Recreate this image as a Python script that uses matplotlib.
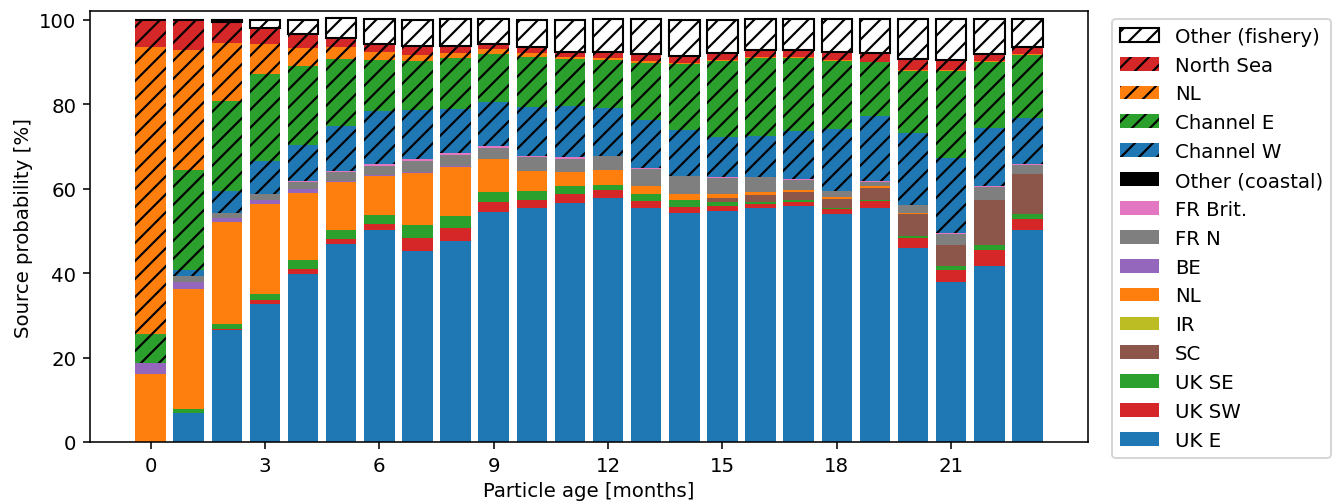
import numpy as np
import matplotlib
matplotlib.use('Agg')
import matplotlib.pyplot as plt

# particle age [months]
months = np.arange(24)

# coastal sources (solid), bottom -> top
uk_e      = [0.0, 6.9, 26.4, 32.7, 39.8, 46.9, 50.1, 45.3, 47.5, 54.4, 55.3, 56.5,
             57.8, 55.3, 54.3, 54.7, 55.4, 55.8, 53.9, 55.3, 46.0, 37.9, 41.6, 50.1]
uk_sw     = [0.0, 0.0, 0.4, 0.9, 1.2, 1.2, 1.6, 3.0, 3.2, 2.3, 2.1, 2.3,
             1.9, 1.7, 1.4, 1.2, 0.9, 0.9, 1.3, 1.7, 2.2, 2.7, 3.8, 2.8]
uk_se     = [0.0, 1.0, 1.2, 1.4, 2.1, 2.2, 2.1, 3.1, 2.8, 2.4, 2.1, 1.7,
             1.2, 1.8, 1.6, 0.9, 0.5, 0.6, 0.2, 0.4, 0.6, 1.1, 1.3, 1.1]
sc        = [0.0, 0.0, 0.0, 0.0, 0.0, 0.0, 0.0, 0.0, 0.0, 0.0, 0.0, 0.0,
             0.0, 0.0, 0.0, 0.9, 1.6, 1.8, 2.1, 2.8, 5.2, 5.0, 10.5, 9.4]
ir        = [0.0]*24
nl        = [16.2, 28.4, 24.1, 21.3, 15.9, 11.3, 9.2, 12.3, 11.7, 8.0, 4.7, 3.3,
             3.4, 1.9, 1.3, 0.9, 0.7, 0.5, 0.5, 0.3, 0.1, 0.0, 0.0, 0.0]
be        = [2.5, 1.5, 1.0, 1.0, 1.0, 0.2, 0.1, 0.1, 0.1, 0.0, 0.0, 0.0,
             0.0, 0.0, 0.0, 0.0, 0.0, 0.0, 0.0, 0.0, 0.0, 0.0, 0.0, 0.0]
fr_n      = [0.0, 1.6, 1.2, 1.5, 1.5, 2.0, 2.3, 2.8, 2.6, 2.6, 3.2, 3.3,
             3.3, 4.0, 4.3, 4.0, 3.6, 2.4, 1.3, 1.1, 1.9, 2.6, 3.1, 2.2]
fr_brit   = [0.0, 0.0, 0.0, 0.0, 0.2, 0.3, 0.3, 0.4, 0.5, 0.3, 0.3, 0.4,
             0.1, 0.2, 0.1, 0.1, 0.1, 0.2, 0.1, 0.1, 0.1, 0.1, 0.2, 0.2]
other_c   = [0.0]*24

# fishery sources (hatched)
ch_w      = [0.0, 1.2, 5.0, 7.8, 8.7, 10.6, 12.6, 11.5, 10.4, 10.6, 11.7, 12.1,
             11.3, 11.4, 10.8, 9.5, 9.7, 11.4, 14.8, 15.5, 17.0, 17.9, 13.8, 11.0]
ch_e      = [6.9, 23.7, 21.5, 20.4, 18.6, 16.0, 12.2, 11.8, 12.0, 11.3, 11.8, 11.0,
             11.5, 13.4, 15.6, 18.1, 18.5, 17.4, 16.0, 12.7, 14.8, 20.5, 15.7, 14.7]
nl_f      = [68.0, 28.6, 13.6, 7.1, 4.3, 2.8, 1.8, 1.3, 1.4, 1.1, 0.9, 0.5,
             0.3, 0.4, 0.2, 0.2, 0.2, 0.2, 0.2, 0.1, 0.2, 0.2, 0.2, 0.3]
north_sea = [6.4, 7.1, 5.1, 3.9, 3.2, 2.2, 2.0, 2.2, 1.5, 1.2, 1.3, 1.3,
             1.6, 1.7, 1.7, 1.7, 1.6, 1.5, 2.0, 2.2, 2.5, 2.4, 1.7, 1.6]
other_f   = [0.0, 0.0, 0.5, 1.8, 3.4, 4.6, 5.8, 6.2, 6.4, 5.9, 6.5, 7.5,
             7.7, 8.3, 8.7, 7.7, 7.3, 7.5, 7.7, 7.9, 9.5, 9.7, 8.3, 6.8]

# layer: data, label, color, hatch, edge linewidth
layers = [
    (uk_e,      'UK E',            'C0', None, 0),
    (uk_sw,     'UK SW',           'C3', None, 0),
    (uk_se,     'UK SE',           'C2', None, 0),
    (sc,        'SC',              'C5', None, 0),
    (ir,        'IR',              'C8', None, 0),
    (nl,        'NL',              'C1', None, 0),
    (be,        'BE',              'C4', None, 0),
    (fr_n,      'FR N',            'C7', None, 0),
    (fr_brit,   'FR Brit.',        'C6', None, 0),
    (other_c,   'Other (coastal)', 'k',  None, 0),
    (ch_w,      'Channel W',       'C0', '//', 0),
    (ch_e,      'Channel E',       'C2', '//', 0),
    (nl_f,      'NL',              'C1', '//', 0),
    (north_sea, 'North Sea',       'C3', '//', 0),
    (other_f,   'Other (fishery)', 'w',  '//', 1.4),
]

# hatch spacing is fixed in pixels per dpi, so use a low dpi and scale text/lines up
DPI = 108
s = 142/DPI
plt.rcParams.update({
    'font.size': 10*s,
    'axes.linewidth': 0.8*s,
    'xtick.major.width': 0.8*s, 'ytick.major.width': 0.8*s,
    'xtick.major.size': 3.5*s,  'ytick.major.size': 3.5*s,
    'xtick.major.pad': 3.5*s,   'ytick.major.pad': 3.5*s,
    'patch.linewidth': 1.0*s,
    'hatch.linewidth': 1.45,
})

fig = plt.figure(figsize=(1335/DPI, 505/DPI), dpi=DPI)
ax  = fig.add_axes([0.0674, 0.1228, 0.7476, 0.8532])

bottom = np.zeros(len(months))
for data, label, col, hatch, lw in layers:
    vals = np.array(data)
    ax.bar(months, vals, width=0.8, bottom=bottom, color=col,
           hatch=hatch, edgecolor='k', linewidth=lw, label=label)
    bottom += vals

ax.set_ylim(0, 102)
ax.set_xticks(np.arange(0, 24, 3))
ax.set_xlabel('Particle age [months]')
ax.set_ylabel('Source probability [%]')

h, l = ax.get_legend_handles_labels()
ax.legend(h[::-1], l[::-1], loc='upper left', bbox_to_anchor=(1.014, 1.005))

plt.savefig('out.png', dpi=DPI)
